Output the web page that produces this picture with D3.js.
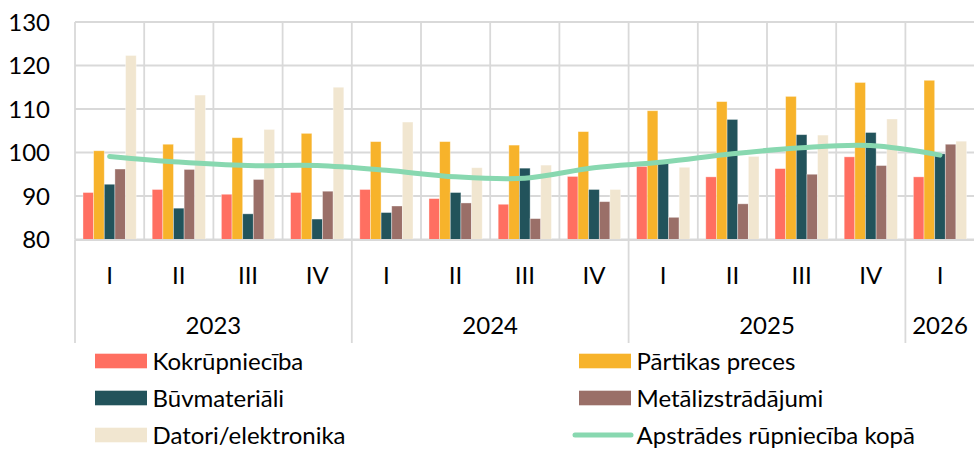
<!DOCTYPE html>
<html>
<head>
<meta charset="utf-8">
<script src="https://cdn.jsdelivr.net/npm/d3@7"></script>
<style>
  html, body { margin: 0; padding: 0; background: #fff; }
  svg { display: block; font-family: Lato, "Open Sans", sans-serif; }
</style>
</head>
<body>
<div id="chart"></div>
<script>
// ── data ──────────────────────────────────────────────
const quarters = ["I", "II", "III", "IV", "I", "II", "III", "IV", "I", "II", "III", "IV", "I"];
const years = ["2023", "2024", "2025", "2026"];
const yearSpans = [4, 4, 4, 1];
const yTicks = [80, 90, 100, 110, 120, 130];

const seriesNames = ["Kokrūpniecība", "Pārtikas preces", "Būvmateriāli", "Metālizstrādājumi", "Datori/elektronika"];
const kokrupnieciba   = [90.8, 91.5, 90.4, 90.8, 91.5, 89.4, 88.1, 94.5, 96.8, 94.4, 96.3, 99.0, 94.4];
const partika         = [100.4, 101.9, 103.4, 104.4, 102.5, 102.5, 101.7, 104.8, 109.6, 111.7, 112.9, 116.1, 116.6];
const buvmateriali    = [92.7, 87.2, 85.9, 84.7, 86.2, 90.8, 96.4, 91.5, 97.8, 107.6, 104.1, 104.6, 99.7];
const metalizstradaj  = [96.2, 96.1, 93.8, 91.1, 87.7, 88.4, 84.8, 88.7, 85.1, 88.2, 95.0, 97.0, 101.9];
const datori          = [122.3, 113.2, 105.3, 115.0, 107.0, 96.5, 97.1, 91.5, 96.6, 99.1, 104.0, 107.7, 102.6];
const apstrade        = [99.1, 97.8, 97.0, 97.0, 95.9, 94.4, 94.1, 96.5, 97.8, 99.7, 101.1, 101.6, 99.4];
const lineName = "Apstrādes rūpniecība kopā";

const barSeries = [kokrupnieciba, partika, buvmateriali, metalizstradaj, datori];
const COLOURS = ["#ff6f61", "#f7b32b", "#22535b", "#9a6f68", "#f1e6d0"];
const LINE_COLOUR = "#88d8b0";

// ── layout ────────────────────────────────────────────
const W = 974, H = 449;
const PLOT = { left: 75, right: 974.6, top: 22, bottom: 239.5 };
const GRID = "#d9d9d9";
const FONT = 24;

const svg = d3.select("#chart").append("svg")
  .attr("width", W).attr("height", H);

const idx = quarters.map((q, i) => i);
const x = d3.scaleBand().domain(idx).range([PLOT.left, PLOT.right]).padding(0);
const x1 = d3.scaleBand().domain(d3.range(seriesNames.length))
  .range([0, x.bandwidth()]).paddingInner(0).paddingOuter(0.75);
const y = d3.scaleLinear().domain([80, 130]).range([PLOT.bottom, PLOT.top]);

// horizontal grid
svg.append("g")
  .selectAll("line").data(yTicks).join("line")
  .attr("x1", PLOT.left).attr("x2", PLOT.right)
  .attr("y1", d => y(d)).attr("y2", d => y(d))
  .attr("stroke", GRID).attr("stroke-width", 1.8);

// vertical grid at category boundaries
svg.append("g")
  .selectAll("line").data(idx).join("line")
  .attr("x1", d => x(d)).attr("x2", d => x(d))
  .attr("y1", PLOT.top).attr("y2", PLOT.bottom)
  .attr("stroke", GRID).attr("stroke-width", 1.8);

// y labels
svg.append("g")
  .selectAll("text").data(yTicks).join("text")
  .attr("x", 50).attr("y", d => y(d) + 8.6)
  .attr("text-anchor", "end")
  .attr("font-size", FONT).attr("fill", "#000")
  .text(d => d);

// bars
const groups = svg.append("g").selectAll("g").data(barSeries).join("g")
  .attr("fill", (d, i) => COLOURS[i]);
groups.each(function (vals, si) {
  d3.select(this).selectAll("rect").data(vals).join("rect")
    .attr("x", (v, i) => x(i) + x1(si))
    .attr("width", x1.bandwidth())
    .attr("y", v => y(v))
    .attr("height", v => y(80) - y(v))
    .attr("stroke", "#ffffff").attr("stroke-opacity", 0.45).attr("stroke-width", 0.8);
});

// total line
const line = d3.line()
  .x((v, i) => x(i) + x.bandwidth() / 2)
  .y(v => y(v))
  .curve(d3.curveCatmullRom.alpha(0.5));
svg.append("path")
  .datum(apstrade)
  .attr("d", line)
  .attr("fill", "none")
  .attr("stroke", LINE_COLOUR)
  .attr("stroke-width", 5)
  .attr("stroke-linecap", "round");

// x axis baseline
svg.append("line")
  .attr("x1", PLOT.left).attr("x2", PLOT.right)
  .attr("y1", PLOT.bottom + 0.5).attr("y2", PLOT.bottom + 0.5)
  .attr("stroke", GRID).attr("stroke-width", 2);

// quarter labels
svg.append("g")
  .selectAll("text").data(quarters).join("text")
  .attr("x", (q, i) => x(i) + x.bandwidth() / 2)
  .attr("y", 283.5)
  .attr("text-anchor", "middle")
  .attr("font-size", FONT).attr("fill", "#000")
  .text(d => d);

// year labels + separators
let start = 0;
const yearPos = years.map((yr, k) => {
  const s = start;
  start += yearSpans[k];
  return { yr, s, e: start };
});
svg.append("g")
  .selectAll("line").data(yearPos.map(d => d.s)).join("line")
  .attr("x1", d => x(d)).attr("x2", d => x(d))
  .attr("y1", PLOT.bottom).attr("y2", 343)
  .attr("stroke", GRID).attr("stroke-width", 1.8);
svg.append("g")
  .selectAll("text").data(yearPos).join("text")
  .attr("x", d => (x(d.s) + (d.e < quarters.length ? x(d.e) : PLOT.right)) / 2)
  .attr("y", 334)
  .attr("text-anchor", "middle")
  .attr("font-size", FONT).attr("fill", "#000")
  .text(d => d.yr);

// legend (last row nudged up so descenders stay inside the frame)
const legendItems = seriesNames.map((n, i) => ({ name: n, colour: COLOURS[i], type: "bar" }))
  .concat([{ name: lineName, colour: LINE_COLOUR, type: "line" }]);
const legend = svg.append("g").selectAll("g").data(legendItems).join("g")
  .attr("transform", (d, i) => `translate(${i % 2 === 0 ? 95 : 579},${361 + Math.floor(i / 2) * 37})`);
legend.filter(d => d.type === "bar").append("rect")
  .attr("x", 0).attr("y", -7.3).attr("width", 52).attr("height", 14.6)
  .attr("fill", d => d.colour);
legend.filter(d => d.type === "line").append("line")
  .attr("x1", -4).attr("x2", 52).attr("y1", 0).attr("y2", 0)
  .attr("stroke", d => d.colour).attr("stroke-width", 5).attr("stroke-linecap", "round");
legend.append("text")
  .attr("x", 57.5).attr("y", 8.6)
  .attr("font-size", FONT).attr("fill", "#000")
  .text(d => d.name);
</script>
</body>
</html>
